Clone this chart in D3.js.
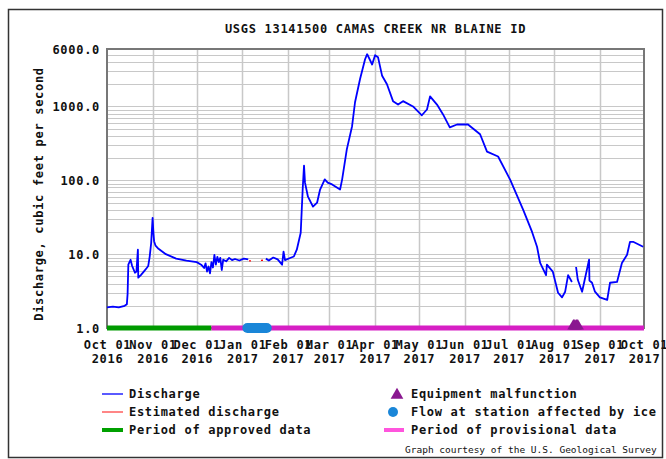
<!DOCTYPE html>
<html>
<head>
<meta charset="utf-8">
<script src="https://cdn.jsdelivr.net/npm/d3@7"></script>
<style>
  body { margin: 0; background: #fff; }
  text { font-family: "DejaVu Sans Mono", monospace; font-weight: bold; font-size: 12px; letter-spacing: 0.7px; fill: #111; }
</style>
</head>
<body>
<div id="chart"></div>
<script>
// daily discharge (cfs), null = gap in record
var flowDates = [
  "2016-10-01", "2016-10-05", "2016-10-09", "2016-10-13", "2016-10-14T12:00", "2016-10-15",
  "2016-10-15T12:00", "2016-10-17", "2016-10-18", "2016-10-20", "2016-10-21", "2016-10-22",
  "2016-10-22T06:00", "2016-10-24", "2016-10-26", "2016-10-28", "2016-10-29", "2016-10-30",
  "2016-10-31", "2016-11-01", "2016-11-01T12:00", "2016-11-02", "2016-11-03", "2016-11-05",
  "2016-11-10", "2016-11-17", "2016-11-24", "2016-12-01", "2016-12-04", "2016-12-06",
  "2016-12-07", "2016-12-08", "2016-12-09", "2016-12-10", "2016-12-11", "2016-12-12",
  "2016-12-13", "2016-12-14", "2016-12-15", "2016-12-16", "2016-12-17", "2016-12-18",
  "2016-12-19", "2016-12-21", "2016-12-23", "2016-12-25", "2016-12-27", "2016-12-30",
  "2017-01-02", "2017-01-05", "2017-01-06",
  "2017-01-17", "2017-01-19", "2017-01-22", "2017-01-25", "2017-01-28", "2017-01-29",
  "2017-01-30", "2017-02-02", "2017-02-05", "2017-02-07", "2017-02-09T16:00", "2017-02-11",
  "2017-02-11T22:00", "2017-02-12T14:00", "2017-02-14T14:00", "2017-02-18", "2017-02-20T20:00", "2017-02-22T20:00",
  "2017-02-26", "2017-02-28", "2017-03-03", "2017-03-08T10:00", "2017-03-09T20:00", "2017-03-13",
  "2017-03-16T14:00", "2017-03-18T14:00", "2017-03-22", "2017-03-25T10:00", "2017-03-26T20:00", "2017-03-30T05:00",
  "2017-04-01T05:00", "2017-04-03T05:00", "2017-04-06", "2017-04-09T07:00", "2017-04-13T10:00", "2017-04-16T20:00",
  "2017-04-20T05:00", "2017-04-27", "2017-05-03", "2017-05-06T12:00", "2017-05-08T14:00", "2017-05-13T07:00",
  "2017-05-17T10:00", "2017-05-22", "2017-05-26T22:00", "2017-06-03T10:00", "2017-06-04T20:00", "2017-06-11T14:00",
  "2017-06-16T07:00", "2017-06-23T20:00", "2017-07-02", "2017-07-10T20:00", "2017-07-16T22:00", "2017-07-20T07:00",
  "2017-07-22T10:00", "2017-07-26T10:00", "2017-07-27", "2017-07-31", "2017-08-03T14:00", "2017-08-06T07:00",
  "2017-08-08T10:00", "2017-08-10T10:00", "2017-08-13", "2017-08-14",
  "2017-08-15T20:00", "2017-08-17", "2017-08-19T22:00", "2017-08-22", "2017-08-24T16:00", "2017-08-24T22:00",
  "2017-08-26T16:00", "2017-08-28T16:00", "2017-09-01", "2017-09-06", "2017-09-07T22:00", "2017-09-12T16:00",
  "2017-09-16", "2017-09-19T12:00", "2017-09-21T12:00", "2017-09-23T14:00", "2017-09-30T10:00"
];
var flowValues = [
  1.9, 1.95, 1.9, 2.0, 2.1, 2.9,
  7.2, 8.4, 7.0, 5.6, 5.8, 11.5,
  4.8, 5.2, 5.8, 6.5, 6.9, 9.2,
  14, 31, 20, 15, 13, 11.8,
  10, 8.7, 8.2, 7.8, 7.2, 6.5,
  7.5, 5.8, 6.8, 5.5, 7.8, 6.6,
  9.8, 7.2, 9.2, 7.8, 8.9, 6.1,
  8.4, 8.0, 8.9, 8.3, 8.6, 8.2,
  8.7, 8.5, null,
  8.7, 8.2, 9.0, 8.5, 7.2, 10.8,
  8.3, 8.8, 9.3, 11.5, 19.5, 75,
  158, 93, 60, 44, 50, 75,
  103, 93, 88, 75, 103, 262,
  540, 1140, 2350, 4360, 5100, 3700,
  4950, 4650, 2600, 2000, 1180, 1060,
  1180, 1000, 760, 910, 1370, 1060,
  780, 520, 570, 570, 540, 420,
  245, 210, 102, 40, 20, 12.6,
  7.6, 5.2, 7.2, 5.8, 3.0, 2.6,
  3.1, 5.2, 4.2, null,
  6.7, 4.5, 3.1, 4.8, 8.4, 4.4,
  4.1, 3.1, 2.6, 2.4, 4.1, 4.2,
  7.6, 9.8, 14.7, 14.7, 12.6
];

// estimated discharge (red), ice-affected and malfunction markers, review periods
var estDates = ["2017-01-05T12:00", "2017-01-17"];
var estValues = [8.1, 8.3];
var icePeriod = ["2017-01-01", "2017-01-21"];
var malfunctionDates = ["2017-08-14", "2017-08-15", "2017-08-16", "2017-08-17"];
var approvedPeriod = ["2016-10-01", "2016-12-11"];
var provisionalPeriod = ["2016-12-11", "2017-10-01"];

// axis labels
var monthLabels = ["Oct 01", "Nov 01", "Dec 01", "Jan 01", "Feb 01", "Mar 01", "Apr 01",
  "May 01", "Jun 01", "Jul 01", "Aug 01", "Sep 01", "Oct 01"];
var yearLabels = ["2016", "2016", "2016", "2017", "2017", "2017", "2017",
  "2017", "2017", "2017", "2017", "2017", "2017"];
var yTicks = [1, 10, 100, 1000, 6000];

var width = 666, height = 459;
var margin = { top: 49, right: 22, bottom: 131, left: 107 };

var parse = d3.isoParse;
var start = parse("2016-10-01"), end = parse("2017-10-01");
var tickDates = d3.utcMonth.range(start, d3.utcDay.offset(end, 1));

var svg = d3.select("#chart").append("svg")
  .attr("width", width)
  .attr("height", height);

// outer frame
svg.append("rect")
  .attr("x", 8.5).attr("y", 9.5)
  .attr("width", 654).attr("height", 448)
  .attr("fill", "none").attr("stroke", "#333").attr("stroke-width", 1.5);

var x = d3.scaleUtc()
  .domain([start, end])
  .range([margin.left, width - margin.right]);

var y = d3.scaleLog()
  .domain([1, 6000])
  .range([height - margin.bottom, margin.top]);

// grid
var minor = [];
[1, 10, 100, 1000].forEach(function(dec) {
  for (var k = 1; k <= 9; k++) {
    var v = k * dec;
    if (v > 1 && v < 6000) minor.push(v);
  }
});
svg.append("g").selectAll("line").data(minor).join("line")
  .attr("x1", x.range()[0]).attr("x2", x.range()[1])
  .attr("y1", function(d) { return Math.round(y(d)) + 0.5; })
  .attr("y2", function(d) { return Math.round(y(d)) + 0.5; })
  .attr("stroke", "#c8c8c8");

svg.append("g").selectAll("line").data(tickDates.slice(1, -1)).join("line")
  .attr("x1", function(d) { return Math.round(x(d)) + 0.5; })
  .attr("x2", function(d) { return Math.round(x(d)) + 0.5; })
  .attr("y1", y.range()[1]).attr("y2", y.range()[0])
  .attr("stroke", "#c8c8c8").attr("stroke-width", 1.5);

// plot border
svg.append("rect")
  .attr("x", x.range()[0]).attr("y", y.range()[1])
  .attr("width", x.range()[1] - x.range()[0])
  .attr("height", y.range()[0] - y.range()[1])
  .attr("fill", "none").attr("stroke", "#777").attr("stroke-width", 2);

// discharge line
var flow = flowDates.map(function(d, i) { return { date: parse(d), value: flowValues[i] }; });
var line = d3.line()
  .defined(function(d) { return d.value != null; })
  .x(function(d) { return x(d.date); })
  .y(function(d) { return y(d.value); });

svg.append("path")
  .datum(flow)
  .attr("d", line)
  .attr("fill", "none")
  .attr("stroke", "#0000ff")
  .attr("stroke-width", 1.8)
  .attr("stroke-linejoin", "round");

var est = estDates.map(function(d, i) { return { date: parse(d), value: estValues[i] }; });
svg.append("path")
  .datum(est)
  .attr("d", line)
  .attr("fill", "none")
  .attr("stroke", "#ff0000")
  .attr("stroke-width", 1.3)
  .attr("stroke-dasharray", "2,10");

// review period bars
var yBase = y(1);
svg.append("line")
  .attr("x1", x(parse(approvedPeriod[0]))).attr("x2", x(parse(approvedPeriod[1])))
  .attr("y1", yBase).attr("y2", yBase)
  .attr("stroke", "#009a00").attr("stroke-width", 5);
svg.append("line")
  .attr("x1", x(parse(provisionalPeriod[0]))).attr("x2", x(parse(provisionalPeriod[1])))
  .attr("y1", yBase).attr("y2", yBase)
  .attr("stroke", "#d61fc4").attr("stroke-width", 5);

// ice affected
svg.append("rect")
  .attr("x", x(parse(icePeriod[0])))
  .attr("y", yBase - 5)
  .attr("width", x(parse(icePeriod[1])) - x(parse(icePeriod[0])))
  .attr("height", 10)
  .attr("rx", 5)
  .attr("fill", "#1a86d8");

// equipment malfunction
var tri = d3.symbol().type(d3.symbolTriangle).size(65);
svg.append("g").selectAll("path").data(malfunctionDates).join("path")
  .attr("d", tri)
  .attr("transform", function(d) { return "translate(" + x(parse(d)) + "," + (yBase - 2) + ")"; })
  .attr("fill", "#8a1890");

// y axis labels
svg.append("g")
  .attr("transform", "translate(" + (margin.left - 7) + ",0)")
  .call(d3.axisLeft(y).tickValues(yTicks).tickSize(0).tickPadding(0)
    .tickFormat(d3.format(".1f")))
  .call(function(g) { g.select(".domain").remove(); })
  .call(function(g) {
    g.selectAll("text").attr("font-size", null).attr("font-family", null)
      .attr("dy", "0.36em").attr("x", 0);
  });

// x axis labels (two lines)
var xAxis = svg.append("g")
  .attr("transform", "translate(0," + yBase + ")")
  .call(d3.axisBottom(x).tickValues(tickDates).tickSize(0).tickPadding(0)
    .tickFormat(function(d, i) { return ""; }))
  .call(function(g) { g.select(".domain").remove(); });

xAxis.selectAll(".tick text")
  .attr("font-size", null).attr("font-family", null)
  .attr("y", 21).attr("dy", null)
  .each(function(d, i) {
    var t = d3.select(this);
    t.append("tspan").attr("x", 0).text(monthLabels[i]);
    t.append("tspan").attr("x", 0).attr("dy", 14).text(yearLabels[i]);
  });

// titles
svg.append("text")
  .attr("x", (x.range()[0] + x.range()[1]) / 2)
  .attr("y", 33)
  .attr("text-anchor", "middle")
  .text("USGS 13141500 CAMAS CREEK NR BLAINE ID");

svg.append("text")
  .attr("transform", "translate(43,194) rotate(-90)")
  .attr("text-anchor", "middle")
  .text("Discharge, cubic feet per second");

// legend
var legend = svg.append("g");
var rows = [398, 416, 434];

legend.append("line").attr("x1", 102).attr("x2", 123).attr("y1", 394).attr("y2", 394)
  .attr("stroke", "#0000ff").attr("stroke-width", 1.3);
legend.append("line").attr("x1", 102).attr("x2", 123).attr("y1", 412).attr("y2", 412)
  .attr("stroke", "#ff4444").attr("stroke-width", 1.3);
legend.append("line").attr("x1", 102).attr("x2", 123).attr("y1", 430).attr("y2", 430)
  .attr("stroke", "#00a000").attr("stroke-width", 4);

legend.append("text").attr("x", 129).attr("y", rows[0]).text("Discharge");
legend.append("text").attr("x", 129).attr("y", rows[1]).text("Estimated discharge");
legend.append("text").attr("x", 129).attr("y", rows[2]).text("Period of approved data");

legend.append("path")
  .attr("d", d3.symbol().type(d3.symbolTriangle).size(70))
  .attr("transform", "translate(397,395)")
  .attr("fill", "#8a1890");
legend.append("circle").attr("cx", 393).attr("cy", 412).attr("r", 5)
  .attr("fill", "#1a86d8");
legend.append("line").attr("x1", 384).attr("x2", 404).attr("y1", 430).attr("y2", 430)
  .attr("stroke", "#ff55dd").attr("stroke-width", 4);

legend.append("text").attr("x", 411).attr("y", rows[0]).text("Equipment malfunction");
legend.append("text").attr("x", 411).attr("y", rows[1]).text("Flow at station affected by ice");
legend.append("text").attr("x", 411).attr("y", rows[2]).text("Period of provisional data");

svg.append("text")
  .attr("x", 405).attr("y", 453)
  .style("font-size", "9.5px").style("font-weight", "normal").style("letter-spacing", "0px")
  .text("Graph courtesy of the U.S. Geological Survey");
</script>
</body>
</html>
